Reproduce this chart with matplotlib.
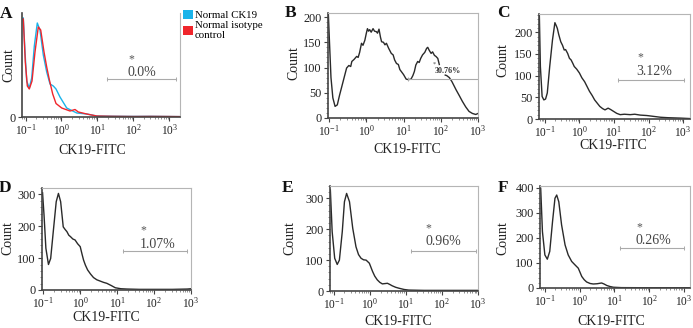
import numpy as np
import matplotlib
matplotlib.use('Agg')
import matplotlib.pyplot as plt
from matplotlib.patches import Patch
from matplotlib.ticker import LogLocator, NullFormatter, FixedLocator, AutoMinorLocator, FuncFormatter

plt.rcParams['font.family'] = ['Liberation Serif', 'DejaVu Serif']
plt.rcParams['mathtext.fontset'] = 'stix'

# ---------------- data (x as log10 of CK19-FITC, y as count) ----------------
a_ck19_logx = [-1.064, -1.016, -0.969, -0.897, -0.830, -0.757, -0.674, -0.599, -0.507, -0.412,
               -0.320, -0.228, -0.153, -0.042, 0.145, 0.424, 0.702, 0.981, 1.4, 2.0, 2.5, 3.0, 3.28]
a_ck19_count = [99, 65, 36, 29, 39, 71, 94, 87, 62, 45, 33, 31, 28, 20, 9, 4, 3, 1, 0.8, 0.6, 0.7, 0.5, 0.4]
a_iso_logx = [-1.064, -1.008, -0.952, -0.897, -0.821, -0.738, -0.646, -0.579, -0.487, -0.412,
              -0.340, -0.245, -0.153, 0.006, 0.237, 0.377, 0.468, 0.702, 0.981, 1.4, 2.0, 2.5, 3.0, 3.28]
a_iso_count = [98, 55, 31, 28, 36, 65, 90, 87, 65, 50, 37.5, 23, 13.5, 9, 6, 7.5, 5, 3, 1, 0.7, 0.5, 0.6, 0.5, 0.4]

b_logx = [-1.02, -0.99, -0.95, -0.90, -0.84, -0.78, -0.72, -0.66, -0.59, -0.53, -0.47, -0.42, -0.39,
          -0.33, -0.26, -0.22, -0.18, -0.13, -0.09, -0.04, 0.0, 0.03, 0.06, 0.09, 0.13, 0.18, 0.22,
          0.27, 0.30, 0.34, 0.38, 0.41, 0.46, 0.50, 0.54, 0.60, 0.67, 0.72, 0.76, 0.81, 0.86, 0.90,
          0.94, 1.0, 1.07, 1.13, 1.2, 1.25, 1.29, 1.33, 1.38, 1.42, 1.46, 1.51, 1.57, 1.62, 1.65,
          1.69, 1.74, 1.78, 1.83, 1.87, 1.92, 1.96, 2.04, 2.12, 2.16, 2.23, 2.30, 2.41, 2.50, 2.58,
          2.67, 2.76, 2.85, 2.94, 3.0]
b_count = [205, 150, 80, 40, 23, 26, 45, 62, 82, 99, 104, 102, 112,
           116, 122, 120, 130, 148, 144, 154, 168, 177, 172, 175, 170, 177, 172,
           171, 168, 176, 160, 151, 150, 145, 148, 138, 128, 125, 115, 108, 106, 96,
           92, 86, 77, 76, 77, 84, 92, 105, 112, 110, 118, 125, 130, 138, 140,
           134, 128, 131, 124, 122, 118, 106, np.nan, 85, 84, 80, 72, 56, 44, 33,
           22, 13, 9, 7, 9]

c_logx = [-1.16, -1.13, -1.08, -1.03, -0.98, -0.93, -0.86, -0.78, -0.71, -0.67, -0.64, -0.60, -0.54,
          -0.49, -0.44, -0.40, -0.34, -0.29, -0.24, -0.19, -0.15, -0.08, 0.0, 0.07, 0.15, 0.22,
          0.29, 0.37, 0.44, 0.52, 0.59, 0.67, 0.74, 0.83, 0.90, 0.98, 1.08, 1.18, 1.3, 1.47, 1.6,
          1.76, 1.95, 2.15, 2.35, 2.56, 2.75, 2.94, 3.2]
c_count = [240, 121, 52, 44, 46, 60, 121, 182, 222, 215, 209, 195, 178,
           170, 159, 160, 151, 140, 136, 128, 121, 115, 106, 95, 86, 75,
           64, 54, 44, 36, 29, 24, 21, 25, 22, 18, 13, 10, 11, 10, 11,
           9, 8, 6, 4, 3, 2.5, 2, 1]

d_logx = [-1.02, -0.98, -0.93, -0.86, -0.80, -0.73, -0.65, -0.59, -0.53, -0.46, -0.41, -0.36, -0.31,
          -0.26, -0.20, -0.14, -0.07, 0.0, 0.05, 0.09, 0.14, 0.20, 0.28, 0.36, 0.45, 0.54, 0.63,
          0.72, 0.84, 0.95, 1.1, 1.27, 1.6, 2.0, 2.5, 2.9, 3.0]
d_count = [305, 235, 131, 80, 99, 183, 277, 303, 277, 198, 190, 183, 172,
           167, 160, 157, 145, 136, 112, 94, 78, 63, 50, 39, 32, 28, 24,
           21, 14, 7, 4, 3, 2, 2, 2, 3, 4]

e_logx = [-1.09, -1.04, -0.97, -0.90, -0.84, -0.76, -0.70, -0.64, -0.56, -0.47, -0.38, -0.31, -0.24,
          -0.17, -0.10, -0.01, 0.08, 0.14, 0.21, 0.28, 0.35, 0.42, 0.49, 0.56, 0.62, 0.72, 0.81,
          0.95, 1.08, 1.5, 2.0, 2.5, 3.0]
e_count = [327, 192, 106, 86, 100, 192, 289, 316, 289, 203, 143, 118, 106,
           101, 100, 90, 63, 48, 36, 28, 23, 24, 25, 21, 17, 12, 9,
           5, 3, 2, 2, 2, 2]

f_logx = [-1.12, -1.07, -1.0, -0.93, -0.86, -0.78, -0.71, -0.66, -0.60, -0.52, -0.42, -0.33, -0.23,
          -0.14, -0.04, 0.06, 0.13, 0.20, 0.30, 0.39, 0.50, 0.63, 0.70, 0.78, 0.87, 0.97, 1.2,
          2.0, 3.17]
f_count = [398, 225, 132, 115, 146, 265, 358, 371, 344, 252, 172, 132, 106,
           93, 79, 46, 33, 24, 18, 16, 17, 20, 16, 10, 6, 3, 1.5,
           1, 1]

panel_letters = ['A', 'B', 'C', 'D', 'E', 'F']
gate_labels = ['0.0%', '30.76%', '3.12%', '1.07%', '0.96%', '0.26%']
legend_labels = ['Normal CK19', 'Normal isotype\ncontrol']

# ---------------- layout ----------------
W, H = 693, 328
fig = plt.figure(figsize=(W / 100, H / 100), dpi=100)

def ax_at(l, t, r, b):
    return fig.add_axes([l / W, 1 - b / H, (r - l) / W, (b - t) / H])

specs = [
    dict(box=(22, 13, 180, 117), xl=(-1.1, 3.3), yl=(0, 104), yt=[0],
         xlab=(0.443, -0.26), ylab=(-0.044, 0.5), letter=(6, 14),
         gate=(1.27, 3.19, 38.5), star=(1.94, 58), txt=(2.24, 44.5)),
    dict(box=(328, 13, 478, 118), xl=(-1.03, 3.0), yl=(0, 208), yt=[0, 50, 100, 150, 200],
         xlab=(0.527, -0.24), ylab=(-0.187, 0.52), letter=(291, 13),
         gate=(1.12, 3.0, 77), star=(1.83, 107), txt=(2.19, 94)),
    dict(box=(539, 14, 690, 119), xl=(-1.17, 3.2), yl=(0, 242), yt=[0, 50, 100, 150, 200],
         xlab=(0.49, -0.19), ylab=(-0.199, 0.56), letter=(503, 13),
         gate=(1.12, 3.03, 90), star=(1.76, 143), txt=(2.15, 109)),
    dict(box=(42, 188, 191, 290), xl=(-1.035, 3.0), yl=(0, 320), yt=[0, 100, 200, 300],
         xlab=(0.43, -0.21), ylab=(-0.188, 0.51), letter=(5, 188),
         gate=(1.17, 2.9, 122), star=(1.71, 188), txt=(2.09, 144)),
    dict(box=(330, 186, 478, 291), xl=(-1.1, 3.0), yl=(0, 340), yt=[0, 100, 200, 300],
         xlab=(0.463, -0.23), ylab=(-0.23, 0.505), letter=(288, 188),
         gate=(1.14, 2.95, 129), star=(1.63, 204), txt=(2.04, 159)),
    dict(box=(540, 186, 690, 288), xl=(-1.14, 3.17), yl=(0, 407), yt=[0, 100, 200, 300, 400],
         xlab=(0.477, -0.265), ylab=(-0.207, 0.49), letter=(503, 188),
         gate=(1.16, 3.0, 160), star=(1.71, 244), txt=(2.11, 188)),
]

series = [
    [(a_ck19_logx, a_ck19_count, '#1ab3ea'), (a_iso_logx, a_iso_count, '#f0252b')],
    [(b_logx, b_count, '#2a2a2a')],
    [(c_logx, c_count, '#2a2a2a')],
    [(d_logx, d_count, '#2a2a2a')],
    [(e_logx, e_count, '#2a2a2a')],
    [(f_logx, f_count, '#2a2a2a')],
]

def fmt(v, pos):
    e = int(round(np.log10(v)))
    return r'$\mathregular{10^{%d}}$' % e

for i, sp in enumerate(specs):
    ax = ax_at(*sp['box'])
    for lx, cy, col in series[i]:
        ax.plot(10 ** np.asarray(lx, float), np.asarray(cy, float), color=col, lw=1.0,
                solid_joinstyle='round')
    ax.set_xscale('log')
    ax.set_xlim(10 ** sp['xl'][0], 10 ** sp['xl'][1])
    ax.set_ylim(*sp['yl'])
    ax.xaxis.set_major_locator(FixedLocator([0.1, 1, 10, 100, 1000]))
    ax.xaxis.set_major_formatter(FuncFormatter(fmt))
    ax.xaxis.set_minor_locator(LogLocator(base=10, subs=np.arange(2, 10), numticks=20))
    ax.xaxis.set_minor_formatter(NullFormatter())
    ax.set_yticks(sp['yt'])
    if i > 0:
        ax.yaxis.set_minor_locator(AutoMinorLocator(5))
    ax.tick_params(axis='x', which='major', labelsize=8.3, length=3, width=0.8,
                   color='#444', pad=1.0, labelcolor='#222')
    ax.tick_params(axis='y', which='major', labelsize=8.8, length=3, width=0.8,
                   color='#444', pad=1.5, labelcolor='#222')
    ax.tick_params(axis='both', which='minor', length=1.5, width=0.5, color='#666')
    for s in ('left', 'bottom'):
        ax.spines[s].set_color('#444')
        ax.spines[s].set_linewidth(1.2)
    for s in ('top', 'right'):
        ax.spines[s].set_color('#b5b5b5')
        ax.spines[s].set_linewidth(0.8)
    if i == 0:
        ax.spines['top'].set_visible(False)
    ax.set_xlabel('CK19-FITC', fontsize=10, color='#222')
    ax.xaxis.set_label_coords(*sp['xlab'])
    ax.set_ylabel('Count', fontsize=10, color='#222')
    ax.yaxis.set_label_coords(*sp['ylab'])

    g0, g1, gy = sp['gate']
    ax.plot([10 ** g0, 10 ** g1], [gy, gy], color='#aaaaaa', lw=0.8,
            marker='|', markersize=3, markeredgewidth=0.7)
    if i == 1:
        ax.text(10 ** sp['star'][0], sp['star'][1], '*', fontsize=4.5, ha='center',
                va='center', color='#444')
        ax.text(10 ** sp['txt'][0], sp['txt'][1], gate_labels[i], fontsize=5.8,
                fontweight='bold', ha='center', va='center', color='#333')
    else:
        ax.text(10 ** sp['star'][0], sp['star'][1], '*', fontsize=8.5, ha='center',
                va='center', color='#555')
        ax.text(10 ** sp['txt'][0], sp['txt'][1], gate_labels[i], fontsize=10,
                ha='center', va='center', color='#444')

    lx_, ly_ = sp['letter']
    fig.text(lx_ / W, 1 - ly_ / H, panel_letters[i], fontsize=12.5, fontweight='bold',
             ha='center', va='center', color='#111')

handles = [Patch(facecolor='#1ab3ea', edgecolor='none'),
           Patch(facecolor='#f0252b', edgecolor='none')]
fig.legend(handles, legend_labels, loc='upper left', bbox_to_anchor=(183 / W, 1 - 10 / H),
           frameon=False, fontsize=7.8, handlelength=0.9, handleheight=0.9,
           handletextpad=0.2, borderpad=0, borderaxespad=0, labelspacing=0.05)

fig.savefig('out.png', dpi=100)
